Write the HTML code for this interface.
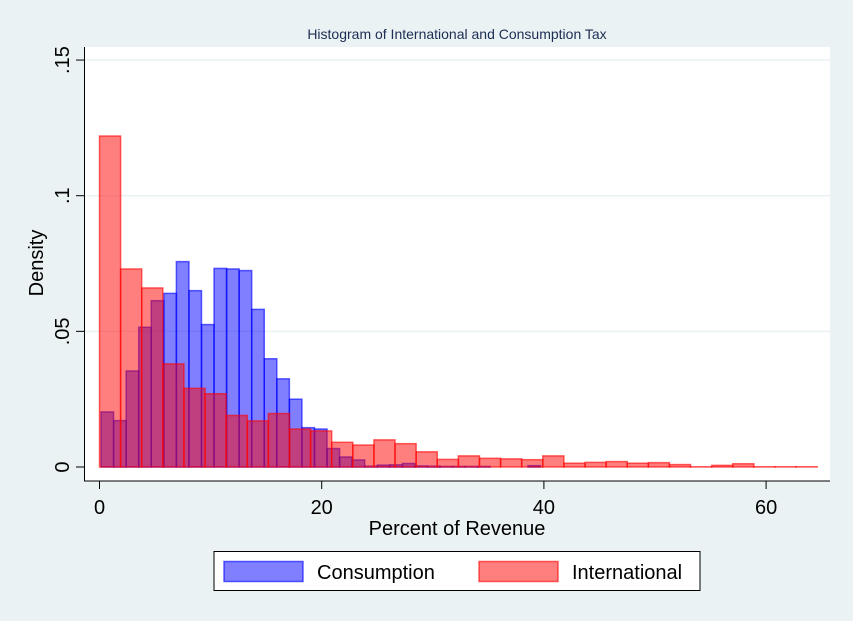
<!DOCTYPE html>
<html><head><meta charset="utf-8"><style>
body{margin:0;background:#eaf2f3;}
svg{display:block;font-family:"Liberation Sans",Arial,sans-serif;}
</style></head><body>
<svg id="chart" width="853" height="621" viewBox="0 0 853 621">
<rect x="0" y="0" width="853" height="621" fill="#eaf2f3"/>
<rect x="84" y="47" width="746" height="434" fill="#ffffff"/>
<text x="457" y="39" font-size="14" fill="#1e2d53" text-anchor="middle">Histogram of International and Consumption Tax</text>
<g id="grid"></g>
<g id="bars"></g>
<g id="axes"></g>
<text x="457" y="535" font-size="20" text-anchor="middle" fill="#000">Percent of Revenue</text>
<text transform="translate(43,263) rotate(-90)" font-size="20" text-anchor="middle" fill="#000">Density</text>
<g>
<rect x="214" y="551.5" width="486" height="39" fill="#fff" stroke="#000" stroke-width="1"/>
<rect x="224" y="561.5" width="79" height="20" fill="rgba(0,0,255,0.5)" stroke="rgba(0,0,255,0.6)" stroke-width="1.5"/>
<text x="317" y="579" font-size="20">Consumption</text>
<rect x="479" y="561.5" width="79" height="20" fill="rgba(255,0,0,0.5)" stroke="rgba(255,0,0,0.6)" stroke-width="1.5"/>
<text x="572" y="579" font-size="20">International</text>
</g>
</svg>
<script>
const consumptionDensity=[.0203,.0171,.0354,.0515,.0613,.0640,.0757,.0650,.0525,.0732,.0730,.0724,.0581,.0399,.0325,.0250,.0145,.0140,.0068,.0037,.0026,.0003,.0007,.0008,.0013,.0004,.0003,.0002,.0002,.0002,.0002,0,0,0,.0005];
const internationalDensity=[.122,.073,.066,.038,.029,.027,.019,.017,.0197,.014,.0133,.0091,.0081,.0100,.0086,.0056,.0028,.0041,.0032,.0030,.0027,.0041,.0014,.0017,.0020,.0014,.0016,.0009,.0001,.0006,.0012,.0001,.0001,.0001];
const consumptionStart=0.14, consumptionWidth=1.13;
const internationalStart=0, internationalWidth=1.9;
const yTicks=[0,.05,.1,.15];
const yTickLabels=["0",".05",".1",".15"];
const xTicks=[0,20,40,60];
const xTickLabels=["0","20","40","60"];

const NS="http://www.w3.org/2000/svg";
const X=v=>99.5+v*11.11;
const Y=v=>467-v*2713;
function mk(parent,tag,attrs){const e=document.createElementNS(NS,tag);for(const k in attrs)e.setAttribute(k,attrs[k]);parent.appendChild(e);return e;}
const grid=document.getElementById('grid'),bars=document.getElementById('bars'),axes=document.getElementById('axes');
yTicks.forEach((t,i)=>{
  if(t>0){const g=mk(grid,'line',{x1:84,x2:830,y1:Y(t),y2:Y(t),stroke:'#eaf2f3','stroke-width':1.5});
  
  }
  const tk=mk(axes,'line',{x1:76,x2:84,y1:Y(t),y2:Y(t),stroke:'#000'});
  
  
  const tx=mk(axes,'text',{transform:`translate(69,${Y(t)}) rotate(-90)`,'font-size':20,'text-anchor':'middle'});
  tx.textContent=yTickLabels[i];
  
  
});
consumptionDensity.forEach((d,i)=>{
  if(d<=0)return;
  const x0=X(consumptionStart+i*consumptionWidth),x1=X(consumptionStart+(i+1)*consumptionWidth);
  const r=mk(bars,'rect',{x:x0,y:Y(d),width:x1-x0,height:Y(0)-Y(d),fill:'rgba(0,0,255,0.5)',stroke:'rgba(0,0,255,0.6)','stroke-width':1.5});
  
  
});
internationalDensity.forEach((d,i)=>{
  if(d<=0)return;
  const x0=X(internationalStart+i*internationalWidth),x1=X(internationalStart+(i+1)*internationalWidth);
  const r=mk(bars,'rect',{x:x0,y:Y(d),width:x1-x0,height:Y(0)-Y(d),fill:'rgba(255,0,0,0.5)',stroke:'rgba(255,0,0,0.6)','stroke-width':1.5});
  
  
});
const ya=mk(axes,'line',{x1:84.5,x2:84.5,y1:47,y2:481,stroke:'#000'});


const xa=mk(axes,'line',{x1:84,x2:830,y1:481,y2:481,stroke:'#000'});


xTicks.forEach((t,i)=>{
  const tk=mk(axes,'line',{x1:X(t),x2:X(t),y1:481,y2:489,stroke:'#000'});
  
  
  const tx=mk(axes,'text',{x:X(t),y:514,'font-size':20,'text-anchor':'middle'});
  tx.textContent=xTickLabels[i];
  
  
});
</script>
</body></html>
